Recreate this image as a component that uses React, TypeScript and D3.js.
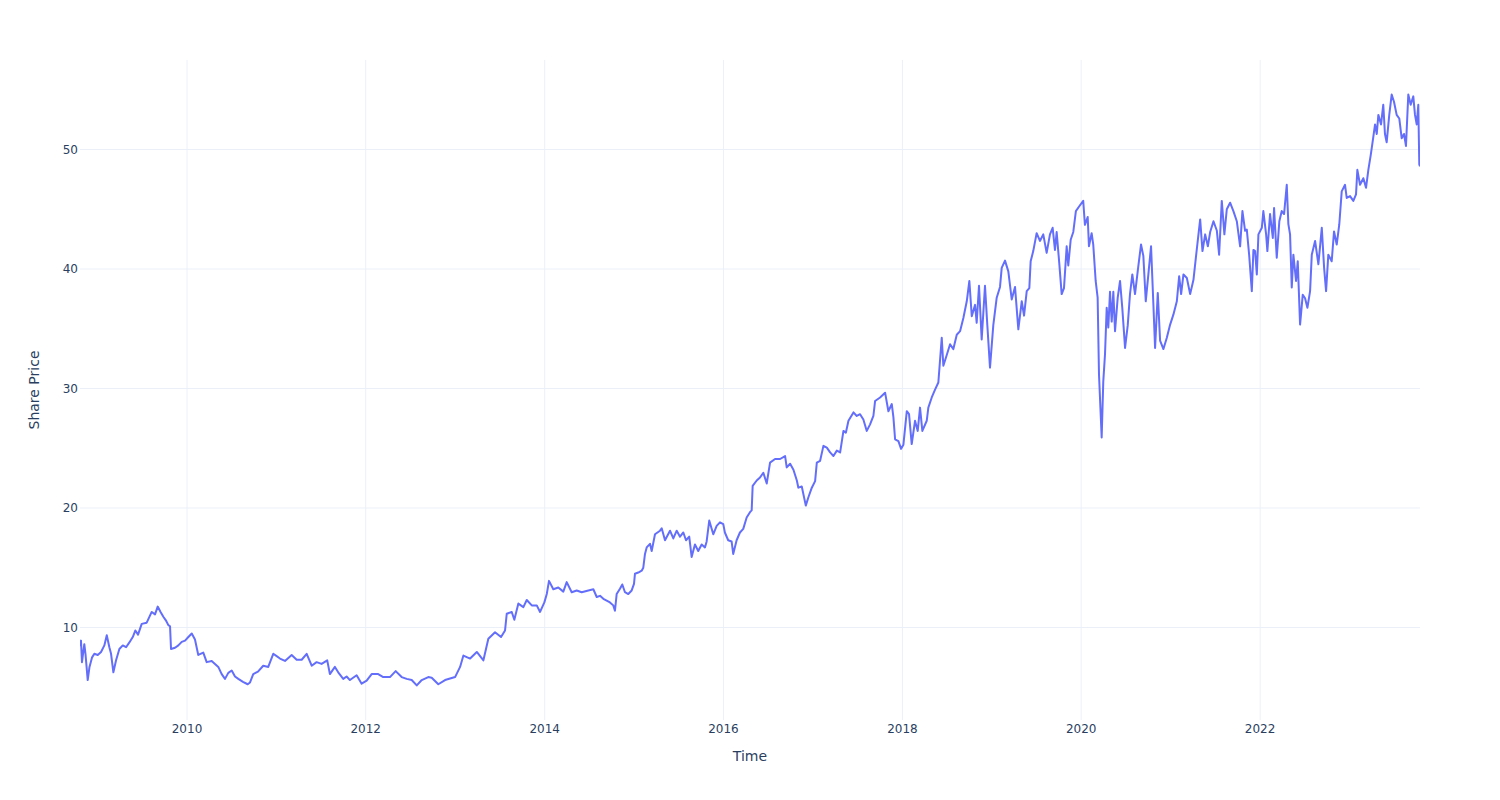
import React from "react";
import * as d3 from "d3";

// Decimal-year timestamps
const YEARS: number[] = [
  2008.803, 2008.814, 2008.825, 2008.851, 2008.864, 2008.889, 2008.909, 2008.938, 2008.963, 2009.001,
  2009.038, 2009.075, 2009.102, 2009.131, 2009.150, 2009.176, 2009.206, 2009.243, 2009.281, 2009.318,
  2009.355, 2009.393, 2009.422, 2009.452, 2009.493, 2009.549, 2009.605, 2009.642, 2009.672, 2009.704,
  2009.735, 2009.763, 2009.791, 2009.810, 2009.821, 2009.866, 2009.903, 2009.941, 2009.978, 2010.015,
  2010.053, 2010.089, 2010.126, 2010.182, 2010.220, 2010.276, 2010.313, 2010.350, 2010.388, 2010.425,
  2010.462, 2010.500, 2010.537, 2010.574, 2010.626, 2010.679, 2010.705, 2010.741,
  2010.794, 2010.853, 2010.909, 2010.965, 2011.003, 2011.040, 2011.096, 2011.171, 2011.227, 2011.283,
  2011.339, 2011.395, 2011.450, 2011.506, 2011.569, 2011.599, 2011.655, 2011.692, 2011.748, 2011.786,
  2011.823, 2011.898, 2011.954, 2012.010, 2012.066, 2012.139, 2012.195, 2012.270, 2012.334, 2012.401,
  2012.457, 2012.513, 2012.569, 2012.625, 2012.698,
  2012.736, 2012.810, 2012.885, 2012.997, 2013.053, 2013.090, 2013.165, 2013.240, 2013.314, 2013.369,
  2013.444, 2013.511, 2013.556, 2013.575, 2013.631, 2013.660, 2013.705, 2013.761, 2013.799, 2013.855,
  2013.911, 2013.948, 2013.996, 2014.023, 2014.048, 2014.096, 2014.152, 2014.208, 2014.246, 2014.302,
  2014.358, 2014.414, 2014.488, 2014.544, 2014.582, 2014.619, 2014.656, 2014.693, 2014.730, 2014.767,
  2014.786, 2014.805, 2014.842, 2014.868, 2014.898, 2014.935, 2014.973, 2014.999, 2015.010, 2015.047,
  2015.085, 2015.103, 2015.122, 2015.141,
  2015.178, 2015.197, 2015.234, 2015.290, 2015.309, 2015.346, 2015.402, 2015.439, 2015.477, 2015.514,
  2015.551, 2015.581, 2015.617, 2015.644, 2015.681, 2015.718, 2015.756, 2015.793, 2015.812, 2015.841,
  2015.886, 2015.924, 2015.961, 2015.998, 2016.016, 2016.053, 2016.091, 2016.109, 2016.147, 2016.184,
  2016.221, 2016.259, 2016.296, 2016.315, 2016.326, 2016.371, 2016.408, 2016.445, 2016.483, 2016.520,
  2016.576,
  2016.632, 2016.688, 2016.706, 2016.744, 2016.781, 2016.819, 2016.836, 2016.874, 2016.919, 2016.948,
  2016.986, 2017.023, 2017.042, 2017.079, 2017.116, 2017.154, 2017.191, 2017.228, 2017.266, 2017.303,
  2017.340, 2017.367, 2017.396, 2017.452, 2017.489, 2017.526, 2017.563, 2017.601, 2017.638, 2017.675,
  2017.694, 2017.750, 2017.806, 2017.843, 2017.881, 2017.899, 2017.918, 2017.955, 2017.985, 2018.011,
  2018.049, 2018.074, 2018.104, 2018.141, 2018.171, 2018.197, 2018.223, 2018.272, 2018.290, 2018.328,
  2018.365, 2018.402,
  2018.440, 2018.458, 2018.496, 2018.533, 2018.570, 2018.608, 2018.645, 2018.682, 2018.720, 2018.749,
  2018.776, 2018.813, 2018.831, 2018.857, 2018.887, 2018.924, 2018.950, 2018.980, 2019.017, 2019.055,
  2019.092, 2019.111, 2019.148, 2019.185, 2019.223, 2019.260, 2019.297, 2019.335, 2019.361, 2019.391,
  2019.420, 2019.435, 2019.464, 2019.502, 2019.539, 2019.576, 2019.614, 2019.651, 2019.681, 2019.707,
  2019.726, 2019.755, 2019.782, 2019.808, 2019.838, 2019.856, 2019.883, 2019.912, 2019.941, 2019.979,
  2020.023, 2020.042, 2020.073, 2020.087, 2020.117, 2020.135, 2020.162, 2020.184, 2020.199, 2020.229,
  2020.247, 2020.266, 2020.285, 2020.303, 2020.322, 2020.341, 2020.359, 2020.378, 2020.408, 2020.434,
  2020.459, 2020.490, 2020.520, 2020.545, 2020.571, 2020.601, 2020.631, 2020.668, 2020.694, 2020.721,
  2020.750, 2020.780, 2020.806, 2020.825, 2020.855, 2020.881, 2020.918, 2020.956, 2020.993, 2021.030,
  2021.068, 2021.094, 2021.116, 2021.142, 2021.180, 2021.217, 2021.254, 2021.281, 2021.310, 2021.329,
  2021.355, 2021.385, 2021.415, 2021.441, 2021.478, 2021.516, 2021.541, 2021.571, 2021.600, 2021.627,
  2021.664, 2021.701, 2021.739, 2021.776, 2021.802, 2021.832, 2021.851, 2021.877, 2021.907, 2021.925,
  2021.944, 2021.963, 2021.981, 2022.019, 2022.036, 2022.067, 2022.081, 2022.111, 2022.142, 2022.156,
  2022.186, 2022.215, 2022.242, 2022.268, 2022.298, 2022.316, 2022.335, 2022.354, 2022.372, 2022.402,
  2022.421, 2022.447, 2022.477, 2022.503, 2022.529, 2022.559, 2022.578, 2022.615, 2022.652, 2022.690,
  2022.716, 2022.738, 2022.763, 2022.801, 2022.827, 2022.857, 2022.886, 2022.913, 2022.950, 2022.969,
  2023.006, 2023.043, 2023.073, 2023.088, 2023.118, 2023.155, 2023.185, 2023.211, 2023.238, 2023.260,
  2023.286, 2023.305, 2023.323, 2023.353, 2023.378, 2023.397, 2023.416, 2023.445, 2023.472, 2023.498,
  2023.528, 2023.557, 2023.584, 2023.610, 2023.632, 2023.658, 2023.685, 2023.714, 2023.733, 2023.752,
  2023.770, 2023.781, 2023.789,
];

// Share prices
const PRICES: number[] = [
  8.4, 8.9, 7.1, 8.6, 7.8, 5.6, 6.7, 7.5, 7.8, 7.7,
  7.95, 8.5, 9.35, 8.35, 7.8, 6.25, 7.25, 8.2, 8.5, 8.35,
  8.75, 9.2, 9.75, 9.4, 10.3, 10.4, 11.3, 11.1, 11.75, 11.3,
  10.9, 10.6, 10.2, 10.1, 8.2, 8.3, 8.5, 8.8, 8.9, 9.2,
  9.5, 9.0, 7.7, 7.9, 7.1, 7.2, 6.95, 6.7, 6.1, 5.7,
  6.2, 6.4, 5.9, 5.7, 5.45, 5.25, 5.4, 6.1,
  6.3, 6.8, 6.7, 7.8, 7.6, 7.4, 7.2, 7.7, 7.3, 7.3,
  7.8, 6.8, 7.1, 6.95, 7.25, 6.1, 6.7, 6.25, 5.7, 5.9,
  5.6, 6.0, 5.3, 5.55, 6.1, 6.1, 5.85, 5.85, 6.35, 5.85,
  5.7, 5.6, 5.15, 5.6, 5.85,
  5.8, 5.25, 5.6, 5.85, 6.7, 7.65, 7.4, 7.95, 7.25, 9.05,
  9.6, 9.2, 9.75, 11.15, 11.3, 10.65, 12.0, 11.7, 12.3, 11.85,
  11.85, 11.3, 12.1, 12.8, 13.9, 13.2, 13.35, 13.0, 13.8, 12.95,
  13.1, 12.95, 13.1, 13.2, 12.55, 12.65, 12.4, 12.25, 12.1, 11.85,
  11.4, 12.8, 13.25, 13.6, 12.95, 12.8, 13.1, 13.65, 14.5, 14.6,
  14.75, 15.0, 16.15, 16.7,
  17.0, 16.4, 17.8, 18.1, 18.3, 17.3, 18.1, 17.45, 18.1, 17.6,
  17.95, 17.3, 17.6, 15.9, 16.95, 16.4, 16.95, 16.7, 17.2, 18.95,
  17.8, 18.5, 18.8, 18.65, 17.95, 17.3, 17.2, 16.15, 17.3, 17.95,
  18.25, 19.2, 19.65, 19.8, 21.85, 22.3, 22.55, 22.95, 22.05, 23.8,
  24.1,
  24.1, 24.35, 23.4, 23.7, 23.2, 22.3, 21.7, 21.8, 20.2, 20.9,
  21.7, 22.25, 23.8, 23.95, 25.2, 25.05, 24.65, 24.35, 24.8, 24.65,
  26.45, 26.3, 27.3, 28.0, 27.7, 27.85, 27.4, 26.45, 27.0, 27.7,
  28.95, 29.25, 29.65, 28.1, 28.7, 27.6, 25.75, 25.6, 24.95, 25.3,
  28.1, 27.85, 25.35, 27.3, 26.45, 28.4, 26.45, 27.3, 28.4, 29.25,
  29.9, 30.5,
  34.25, 31.9, 32.8, 33.7, 33.3, 34.5, 34.8, 35.9, 37.3, 39.0,
  36.05, 37.0, 35.5, 38.6, 34.1, 38.6, 35.3, 31.75, 35.3, 37.6,
  38.5, 40.1, 40.7, 39.8, 37.45, 38.5, 34.95, 37.3, 36.1, 38.15,
  38.4, 40.65, 41.5, 43.0, 42.35, 42.9, 41.35, 42.9, 43.45, 41.6,
  43.1, 40.5, 37.9, 38.4, 41.9, 40.3, 42.45, 43.1, 44.85, 45.25,
  45.7, 43.7, 44.35, 41.9, 43.0, 42.05, 39.0, 37.6, 31.2, 25.9,
  30.6, 32.85, 36.75, 35.1, 38.1, 35.6, 38.1, 34.8, 37.6, 39.0,
  36.75, 33.4, 35.3, 37.9, 39.55, 37.9, 39.8, 42.05, 41.1, 37.3,
  39.55, 41.9, 37.05, 33.4, 38.0, 34.0, 33.3, 34.25, 35.35, 36.2,
  37.3, 39.4, 37.9, 39.55, 39.25, 37.9, 39.1, 40.95, 42.9, 44.15,
  41.5, 42.9, 41.9, 43.1, 44.0, 43.2, 41.2, 45.7, 42.9, 45.0,
  45.55, 44.85, 44.0, 41.9, 44.85, 43.2, 43.3, 41.2, 38.15, 41.6,
  41.5, 39.55, 42.9, 43.45, 44.85, 42.9, 41.5, 44.6, 42.6, 45.1,
  40.95, 44.0, 44.85, 44.6, 47.05, 43.75, 42.9, 38.45, 41.2, 39.0,
  40.65, 35.35, 37.85, 37.55, 36.75, 38.15, 41.2, 42.35, 40.4, 43.45,
  40.1, 38.15, 41.2, 40.65, 43.15, 42.05, 43.75, 46.5, 47.05, 45.95,
  46.1, 45.7, 46.25, 48.3, 47.05, 47.6, 46.8, 48.3, 49.55, 50.7,
  52.1, 51.3, 52.9, 52.1, 53.75, 51.3, 50.6, 52.9, 54.6, 54.0,
  52.9, 52.6, 50.95, 51.3, 50.3, 54.6, 53.75, 54.45, 52.9, 52.1,
  53.75, 48.75, 48.6,
];

const X_TITLE = "Time";
const Y_TITLE = "Share Price";

const WIDTH = 1500;
const HEIGHT = 800;
const MARGIN = { top: 60, right: 80, bottom: 80, left: 80 };
const FONT = "'DejaVu Sans', Verdana, sans-serif";
const TEXT_COLOR = "#2a3f5f";
const GRID_COLOR = "#ebf0f8";
const LINE_COLOR = "#636efa";

function decYearToDate(v: number): Date {
  const yr = Math.floor(v);
  const s = Date.UTC(yr, 0, 1);
  const e = Date.UTC(yr + 1, 0, 1);
  return new Date(s + (v - yr) * (e - s));
}

export default function App() {
  const data = YEARS.map((yv, i) => ({ date: decYearToDate(yv), price: PRICES[i] }));
  const innerW = WIDTH - MARGIN.left - MARGIN.right;
  const innerH = HEIGHT - MARGIN.top - MARGIN.bottom;

  const x = d3
    .scaleUtc()
    .domain(d3.extent(data, (d) => d.date) as [Date, Date])
    .range([MARGIN.left, MARGIN.left + innerW]);

  const [pMin, pMax] = d3.extent(PRICES) as [number, number];
  const pad = (pMax - pMin) * 0.0585;
  const y = d3
    .scaleLinear()
    .domain([pMin - pad, pMax + pad])
    .range([MARGIN.top + innerH, MARGIN.top]);

  const xTicks = x.ticks(d3.utcYear.every(2) as any);
  const yTicks = y.ticks(5);

  const line = d3
    .line<{ date: Date; price: number }>()
    .x((d) => x(d.date))
    .y((d) => y(d.price));

  return (
    <svg
      width={WIDTH}
      height={HEIGHT}
      style={{ position: "absolute", left: 0, top: 0, background: "#fff" }}
      fontFamily={FONT}
    >
      <defs>
        <clipPath id="plot-clip">
          <rect x={MARGIN.left} y={MARGIN.top} width={innerW} height={innerH} />
        </clipPath>
      </defs>
      <g>
        {xTicks.map((t) => (
          <line
            key={"xg" + t.getTime()}
            x1={x(t)}
            x2={x(t)}
            y1={MARGIN.top}
            y2={MARGIN.top + innerH}
            stroke={GRID_COLOR}
            strokeWidth={1}
          />
        ))}
        {yTicks.map((t) => (
          <line
            key={"yg" + t}
            x1={MARGIN.left}
            x2={MARGIN.left + innerW}
            y1={y(t)}
            y2={y(t)}
            stroke={GRID_COLOR}
            strokeWidth={1}
          />
        ))}
      </g>
      <path
        d={line(data) || ""}
        fill="none"
        stroke={LINE_COLOR}
        strokeWidth={2}
        strokeLinejoin="round"
        clipPath="url(#plot-clip)"
      />
      <g fontSize={12} fill={TEXT_COLOR}>
        {xTicks.map((t) => (
          <text key={"xt" + t.getTime()} x={x(t)} y={733} textAnchor="middle">
            {d3.utcFormat("%Y")(t)}
          </text>
        ))}
        {yTicks.map((t) => (
          <text key={"yt" + t} x={78} y={y(t)} dy="0.35em" textAnchor="end">
            {t}
          </text>
        ))}
      </g>
      <text
        x={MARGIN.left + innerW / 2}
        y={761}
        textAnchor="middle"
        fontSize={14}
        fill={TEXT_COLOR}
      >
        {X_TITLE}
      </text>
      <text
        transform={`translate(39, ${MARGIN.top + innerH / 2}) rotate(-90)`}
        textAnchor="middle"
        fontSize={14}
        fill={TEXT_COLOR}
      >
        {Y_TITLE}
      </text>
    </svg>
  );
}
